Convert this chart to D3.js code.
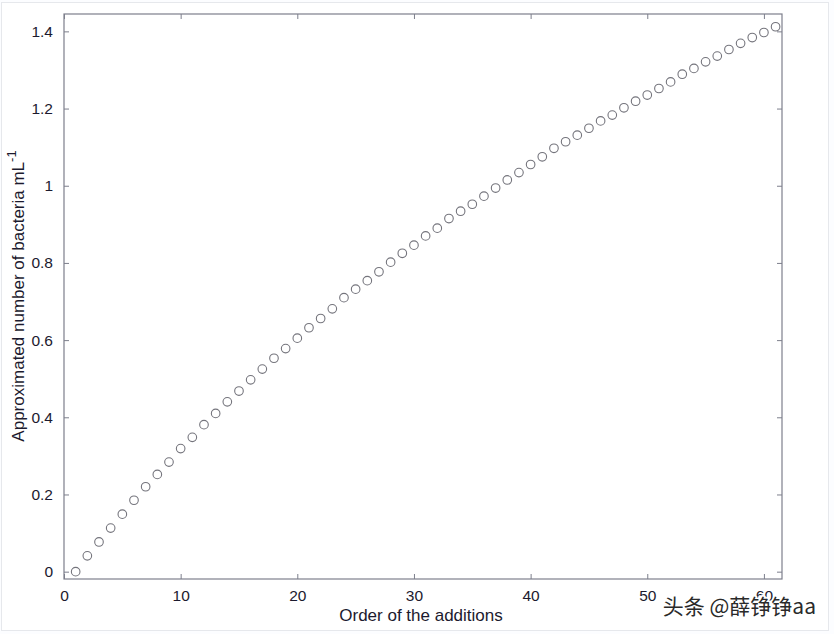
<!DOCTYPE html>
<html>
<head>
<meta charset="utf-8">
<script src="https://cdn.jsdelivr.net/npm/d3@7"></script>
<style>
  html, body { margin: 0; padding: 0; background: #ffffff; }
  svg { display: block; }
</style>
</head>
<body>
<svg id="chart" width="834" height="634"></svg>
<script>
// ---- data ----
const order = d3.range(1, 62);
const bacteria = [
  0.000, 0.041, 0.077, 0.113, 0.149, 0.185, 0.220, 0.252, 0.284, 0.319,
  0.348, 0.381, 0.410, 0.440, 0.468, 0.497, 0.525, 0.553, 0.578, 0.605,
  0.632, 0.656, 0.681, 0.710, 0.732, 0.754, 0.777, 0.802, 0.825, 0.846,
  0.870, 0.890, 0.915, 0.934, 0.952, 0.973, 0.994, 1.015, 1.034, 1.055,
  1.075, 1.097, 1.114, 1.131, 1.149, 1.168, 1.183, 1.202, 1.219, 1.235,
  1.252, 1.269, 1.289, 1.304, 1.321, 1.336, 1.353, 1.369, 1.384, 1.397,
  1.412
];
const xTicks = [0, 10, 20, 30, 40, 50, 60];
const yTicks = [0, 0.2, 0.4, 0.6, 0.8, 1, 1.2, 1.4];
const xLabel = "Order of the additions";
const yLabelMain = "Approximated number of bacteria mL";
const yLabelSup = "-1";
const watermark = "头条 @薛铮铮aa";

// ---- layout ----
const svg = d3.select("#chart");
const W = 834, H = 634;
const mLeft = 64, mRight = 782, mTop = 14, mBottom = 579;

svg.append("rect").attr("x", 0).attr("y", 0).attr("width", W).attr("height", H).attr("fill", "#fcfdff");
svg.append("rect").attr("x", 1.5).attr("y", 2.5).attr("width", 827).attr("height", 628)
  .attr("fill", "#ffffff").attr("stroke", "#e6e8ec").attr("stroke-width", 1);

const x = d3.scaleLinear().domain([0, 61.55]).range([mLeft, mRight]);
const y = d3.scaleLinear().domain([-0.019, 1.445]).range([mBottom, mTop]);

const axisColor = "#7d7f8c";
const textColor = "#1c1a2e";
const font = "'Liberation Sans', Arial, Helvetica, sans-serif";

// plot frame
svg.append("rect").attr("x", mLeft).attr("y", mTop)
  .attr("width", mRight - mLeft).attr("height", mBottom - mTop)
  .attr("fill", "#ffffff").attr("stroke", axisColor).attr("stroke-width", 1.2);

const fmt = d => (d === 0 ? "0" : (d === 1 ? "1" : d3.format(".1f")(d)));

// bottom axis (ticks inward)
const gx = svg.append("g").attr("transform", `translate(0,${mBottom})`)
  .call(d3.axisBottom(x).tickValues(xTicks).tickSize(-5).tickPadding(9).tickFormat(d3.format("d")));
// top mirrored ticks
const gxt = svg.append("g").attr("transform", `translate(0,${mTop})`)
  .call(d3.axisTop(x).tickValues(xTicks).tickSize(-5).tickFormat(""));
// left axis
const gy = svg.append("g").attr("transform", `translate(${mLeft},0)`)
  .call(d3.axisLeft(y).tickValues(yTicks).tickSize(-5).tickPadding(11).tickFormat(fmt));
// right mirrored ticks
const gyr = svg.append("g").attr("transform", `translate(${mRight},0)`)
  .call(d3.axisRight(y).tickValues(yTicks).tickSize(-5).tickFormat(""));

[gx, gxt, gy, gyr].forEach(g => {
  g.select(".domain").remove();
  g.selectAll(".tick line").attr("stroke", axisColor).attr("stroke-width", 1);
  g.selectAll(".tick text").attr("fill", textColor)
    .attr("font-family", font).attr("font-size", 15.5);
});
gx.selectAll(".tick text").attr("dy", "0.85em");

// points
svg.append("g").selectAll("circle")
  .data(order.map((o, i) => ({ o, v: bacteria[i] })))
  .join("circle")
  .attr("cx", d => x(d.o))
  .attr("cy", d => y(d.v))
  .attr("r", 4.3)
  .attr("fill", "none")
  .attr("stroke", "#74747c")
  .attr("stroke-width", 1.1);

// x label
svg.append("text")
  .attr("x", 421).attr("y", 621)
  .attr("text-anchor", "middle")
  .attr("font-family", font).attr("font-size", 17)
  .attr("fill", textColor)
  .text(xLabel);

// y label (rotated)
const yl = svg.append("text")
  .attr("transform", "translate(24,296) rotate(-90)")
  .attr("text-anchor", "middle")
  .attr("font-family", font).attr("font-size", 17)
  .attr("fill", textColor);
yl.append("tspan").text(yLabelMain);
yl.append("tspan").attr("dy", -8).attr("font-size", 13).text(yLabelSup);

// watermark
svg.append("text")
  .attr("x", 816).attr("y", 614)
  .attr("text-anchor", "end")
  .attr("font-family", "'Noto Sans CJK SC', sans-serif")
  .attr("font-size", 21)
  .attr("fill", "#2a2a2a")
  .attr("stroke", "#ffffff").attr("stroke-width", 3).attr("paint-order", "stroke")
  .text(watermark);
</script>
</body>
</html>
